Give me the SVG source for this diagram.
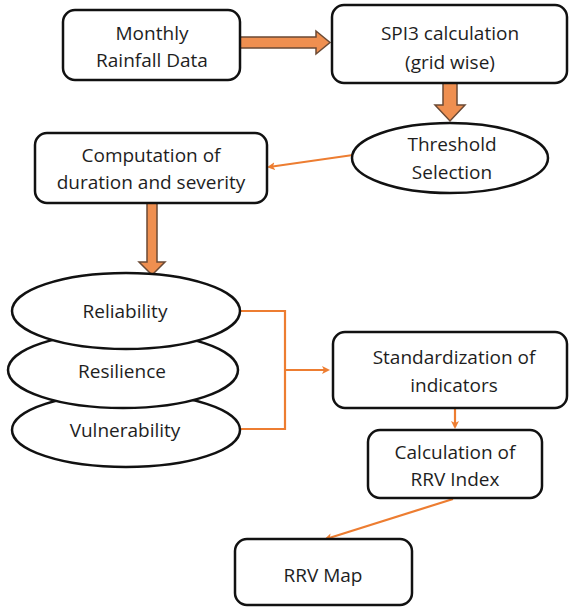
<svg xmlns="http://www.w3.org/2000/svg" width="572" height="608" viewBox="0 0 572 608">
<defs>
<marker id="ah" markerWidth="8" markerHeight="8" refX="6" refY="4" orient="auto" markerUnits="userSpaceOnUse">
<path d="M0,0 L8,4 L0,8 L2,4 Z" fill="#ED7D31"/>
</marker>
</defs>
<style>
.box{fill:#fff;stroke:#111;stroke-width:2.5}
.t{font-family:"Open Sans","Noto Sans",sans-serif;font-size:19px;fill:#1e1e1e;text-anchor:middle;dominant-baseline:central}
.thin{fill:none;stroke:#ED7D31;stroke-width:2.2}
.block{fill:#EF8F50;stroke:#6b4a35;stroke-width:1.5}
</style>
<rect width="572" height="608" fill="#fff"/>
<g id="connectors">
<path class="block" d="M240,37 L316,37 L316,31 L330,42.5 L316,54 L316,48 L240,48 Z"/>
<path class="block" d="M443,83 L457,83 L457,105 L465,105 L450,121 L435,105 L443,105 Z"/>
<path class="thin" d="M353,155 L269,167" marker-end="url(#ah)"/>
<path class="block" d="M147,203 L157,203 L157,262 L165,262 L152,275 L139,262 L147,262 Z"/>
<path class="thin" d="M240,311 L285,311 L285,429 L240,429 M285,370 L328,370" marker-end="url(#ah)"/>
<path class="thin" d="M455,408 L455,427" marker-end="url(#ah)"/>
<path class="thin" d="M453,499 L326,539" marker-end="url(#ah)"/>
</g>
<g id="monthly">
<rect class="box" x="63" y="10" width="177" height="70" rx="12"/>
<text class="t" x="152" y="33">Monthly</text>
<text class="t" x="152" y="60">Rainfall Data</text>
</g>
<g id="spi3">
<rect class="box" x="332" y="5" width="235" height="78" rx="12"/>
<text class="t" x="450" y="33">SPI3 calculation</text>
<text class="t" x="450" y="62">(grid wise)</text>
</g>
<g id="threshold">
<ellipse class="box" cx="450" cy="158" rx="98" ry="35"/>
<text class="t" x="452" y="144">Threshold</text>
<text class="t" x="452" y="172">Selection</text>
</g>
<g id="computation">
<rect class="box" x="35" y="133" width="232" height="70" rx="12"/>
<text class="t" x="151" y="155">Computation of</text>
<text class="t" x="151" y="182">duration and severity</text>
</g>
<g id="vulnerability">
<ellipse class="box" cx="126" cy="430" rx="114" ry="37"/>
<text class="t" x="125" y="430">Vulnerability</text>
</g>
<g id="resilience">
<ellipse class="box" cx="123" cy="370" rx="115" ry="38"/>
<text class="t" x="122" y="371">Resilience</text>
</g>
<g id="reliability">
<ellipse class="box" cx="126" cy="311" rx="114" ry="38"/>
<text class="t" x="125" y="311">Reliability</text>
</g>
<g id="standardization">
<rect class="box" x="333" y="332" width="234" height="76" rx="12"/>
<text class="t" x="454" y="357">Standardization of</text>
<text class="t" x="454" y="385">indicators</text>
</g>
<g id="calculation">
<rect class="box" x="368" y="430" width="174" height="68" rx="12"/>
<text class="t" x="455" y="452">Calculation of</text>
<text class="t" x="455" y="479">RRV Index</text>
</g>
<g id="rrvmap">
<rect class="box" x="235" y="539" width="177" height="66" rx="12"/>
<text class="t" x="323" y="575">RRV Map</text>
</g>
</svg>
